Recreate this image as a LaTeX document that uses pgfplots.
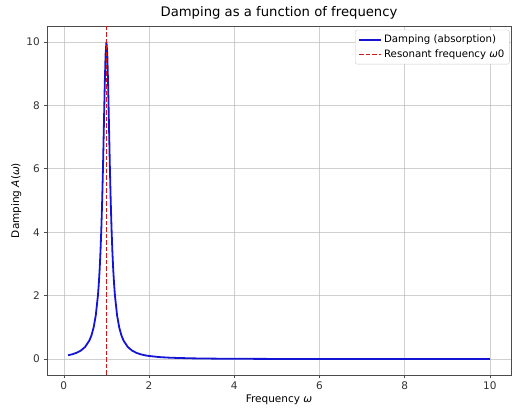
\documentclass[border=0pt]{standalone}
\usepackage{pgfplots}
\pgfplotsset{compat=1.18}
\usepackage{fontspec}
\setmainfont{DejaVu Sans}
\definecolor{mplgrid}{RGB}{176,176,176}
\definecolor{mplblue}{RGB}{20,20,215}
\definecolor{mplred}{RGB}{215,20,20}
\begin{document}
\fontsize{10.5}{12}\selectfont
\begin{tikzpicture}[x=1pt,y=1pt]
\useasboundingbox (-47,-37) rectangle (465,375);
\begin{axis}[
  at={(0,0)}, anchor=south west,
  scale only axis, width=464pt, height=349pt,
  xmin=-0.395, xmax=10.495, ymin=-0.5, ymax=10.5,
  xtick={0,2,4,6,8,10}, ytick={0,2,4,6,8,10},
  /pgf/number format/assume math mode=true,
  tick align=outside, tick pos=left,
  major tick length=3.5pt,
  every tick/.style={black!70, line width=0.6pt},
  axis line style={black!70, line width=0.6pt},
  grid=major,
  major grid style={mplgrid, line width=0.6pt, opacity=0.6},
  ticklabel style={font=\fontsize{10.5}{12}\selectfont, text=black!80},
  title={Damping as a function of frequency},
  title style={font=\fontsize{13.2}{15}\selectfont, yshift=-3pt},
  xlabel={Frequency \textit{ω}},
  ylabel={Damping \textit{A}(\textit{ω})},
  label style={font=\fontsize{10.5}{12}\selectfont},
  xlabel style={yshift=2pt},
  ylabel style={yshift=-2pt},
  legend style={at={(0.997,0.989)}, anchor=north east, font=\fontsize{10.2}{12}\selectfont,
    draw=black!20, rounded corners=2pt, fill=white,
    inner sep=3pt, row sep=1.5pt},
  legend cell align=left,
  legend image code/.code={\draw[#1] (0pt,0pt) -- (22pt,0pt);},
]
\addplot[forget plot, color=mplblue, line width=1.8pt] coordinates {
(0.1,0.1220) (0.2,0.1538) (0.3,0.2) (0.4,0.2703) (0.5,0.3846) (0.6,0.5882)
(0.65,0.7547) (0.7,1.0) (0.75,1.3793) (0.8,2.0) (0.82,2.3585) (0.84,2.8090)
(0.86,3.3784) (0.88,4.0984) (0.9,5.0) (0.92,6.0976) (0.94,7.3529) (0.96,8.6207)
(0.98,9.6154) (1.0,10.0) (1.02,9.6154) (1.04,8.6207) (1.06,7.3529) (1.08,6.0976)
(1.1,5.0) (1.12,4.0984) (1.14,3.3784) (1.16,2.8090) (1.18,2.3585) (1.2,2.0)
(1.25,1.3793) (1.3,1.0) (1.35,0.7547) (1.4,0.5882) (1.5,0.3846) (1.6,0.2703)
(1.7,0.2) (1.8,0.1538) (1.9,0.1220) (2.0,0.0990) (2.25,0.0636) (2.5,0.0442)
(3,0.0249) (3.5,0.0160) (4,0.0111) (5,0.00625) (6,0.0040) (7,0.00278)
(8,0.00204) (9,0.00156) (10,0.00123)
};
\addplot[forget plot, color=mplred, line width=1.8pt, dash pattern=on 4.5pt off 2pt] coordinates {(1,-0.5) (1,10.5)};
\addlegendimage{color=mplblue, line width=1.8pt}
\addlegendentry{Damping (absorption)}
\addlegendimage{color=mplred, line width=1.8pt, dash pattern=on 4.5pt off 2pt}
\addlegendentry{Resonant frequency \textit{ω}0}
\end{axis}
\end{tikzpicture}
\end{document}
